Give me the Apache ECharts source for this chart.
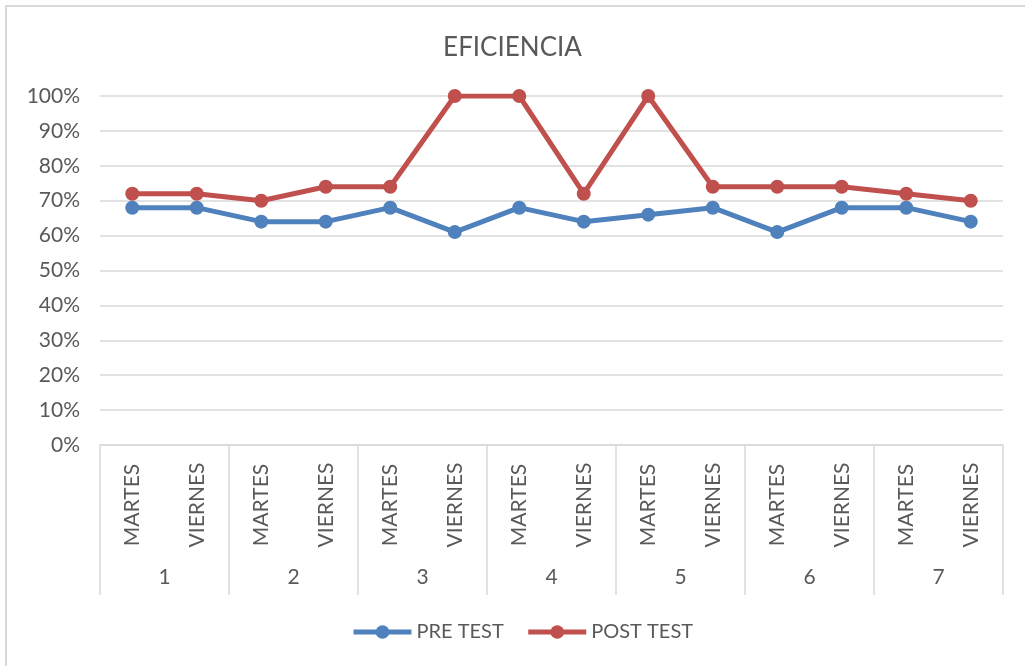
<!DOCTYPE html>
<html>
<head>
<meta charset="utf-8">
<script src="https://cdn.jsdelivr.net/npm/echarts@6/dist/echarts.min.js"></script>
<style>
  html, body { margin: 0; padding: 0; background: #fff; }
  #chart { width: 1025px; height: 666px; }
</style>
</head>
<body>
<div id="chart"></div>
<script>
// Sessions: two days per week, seven weeks
const days = ['MARTES', 'VIERNES', 'MARTES', 'VIERNES', 'MARTES', 'VIERNES', 'MARTES',
              'VIERNES', 'MARTES', 'VIERNES', 'MARTES', 'VIERNES', 'MARTES', 'VIERNES'];
const weeks = ['1', '2', '3', '4', '5', '6', '7'];

// Efficiency (%) per session
const preTest  = [68, 68, 64, 64, 68, 61, 68, 64, 66, 68, 61, 68, 68, 64];
const postTest = [72, 72, 70, 74, 74, 100, 100, 72, 100, 74, 74, 74, 72, 70];

const FONT = 'Lato';
const TEXT = '#595959';
const GRID = '#d9d9d9';

const chart = echarts.init(document.getElementById('chart'));
chart.setOption({
  backgroundColor: '#fff',
  animation: false,
  title: {
    text: 'EFICIENCIA',
    left: 'center',
    top: 30,
    textStyle: { fontFamily: FONT, fontSize: 26, fontWeight: 'normal', color: TEXT }
  },
  legend: {
    bottom: 19,
    left: 346,
    itemWidth: 58,
    itemHeight: 17,
    itemGap: 22,
    lineStyle: { width: 5 },
    textStyle: { fontFamily: FONT, fontSize: 20, color: TEXT },
    data: ['PRE TEST', 'POST TEST']
  },
  graphic: [{
    type: 'rect',
    shape: { x: 6, y: 6, width: 1040, height: 700 },
    style: { fill: 'none', stroke: GRID, lineWidth: 2 },
    silent: true
  }],
  grid: { left: 100, right: 22, top: 96, bottom: 221 },
  xAxis: [{
    type: 'category',
    data: days,
    boundaryGap: true,
    axisLine: { show: true, lineStyle: { color: GRID, width: 1.5 } },
    axisTick: { show: false },
    axisLabel: {
      rotate: 90,
      align: 'center',
      margin: 60,
      interval: 0,
      fontFamily: FONT,
      fontSize: 21,
      color: TEXT
    }
  }, {
    type: 'category',
    data: weeks,
    position: 'bottom',
    boundaryGap: true,
    axisLine: { show: false },
    axisTick: { show: true, length: 150, lineStyle: { color: GRID, width: 1.5 } },
    axisLabel: { margin: 122, interval: 0, fontFamily: FONT, fontSize: 21, color: TEXT }
  }],
  yAxis: {
    type: 'value',
    min: 0,
    max: 100,
    interval: 10,
    axisLine: { show: false },
    axisTick: { show: false },
    splitLine: { lineStyle: { color: GRID, width: 1.5 } },
    axisLabel: {
      formatter: '{value}%',
      margin: 20,
      fontFamily: FONT,
      fontSize: 21,
      color: TEXT
    }
  },
  series: [{
    name: 'PRE TEST',
    type: 'line',
    data: preTest,
    symbol: 'circle',
    symbolSize: 14,
    color: '#4f81bd',
    lineStyle: { width: 5 }
  }, {
    name: 'POST TEST',
    type: 'line',
    data: postTest,
    symbol: 'circle',
    symbolSize: 14,
    color: '#c0504d',
    lineStyle: { width: 5 }
  }]
});
</script>
</body>
</html>
